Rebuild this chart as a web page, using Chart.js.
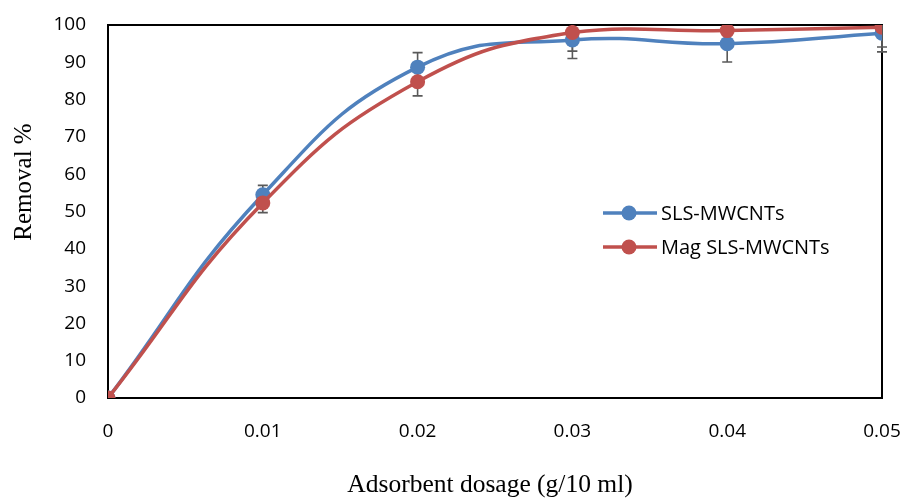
<!DOCTYPE html>
<html>
<head>
<meta charset="utf-8">
<script src="https://cdn.jsdelivr.net/npm/chart.js@4.4.0/dist/chart.umd.min.js"></script>
<style>
  html, body { margin: 0; padding: 0; background: #fff; }
  #wrap { width: 906px; height: 500px; position: relative; }
</style>
</head>
<body>
<div id="wrap"><canvas id="chart"></canvas></div>
<script>
// --- data ---
const dosage = [0, 0.01, 0.02, 0.03, 0.04, 0.05];
const xTickLabels = ["0", "0.01", "0.02", "0.03", "0.04", "0.05"];

const slsValues = [0, 54.5, 88.7, 96, 95, 97.8];
const slsErrors = [0, 2.5, 3.9, 5, 4.9, 5];

const magValues = [0, 52.3, 84.8, 98, 98.5, 99.4];
const magErrors = [0, 2.6, 3.8, 5, 0, 5.3];

const seriesNames = ["SLS-MWCNTs", "Mag SLS-MWCNTs"];
const xTitle = "Adsorbent dosage (g/10 ml)";
const yTitle = "Removal %";
const BLUE = "#4f81bd";
const RED = "#c0504d";

const toPoints = vals => vals.map((v, i) => ({ x: dosage[i], y: v }));

// error bars drawn under the markers, clipped to the plot
const errorBars = {
  id: "errorBars",
  beforeDatasetsDraw(chart) {
    const { ctx, chartArea: a, scales: { y } } = chart;
    ctx.save();
    ctx.beginPath();
    ctx.rect(a.left - 10, a.top, a.right - a.left + 20, a.bottom - a.top);
    ctx.clip();
    ctx.strokeStyle = "#595959";
    ctx.lineWidth = 1.6;
    chart.data.datasets.forEach((ds, di) => {
      const meta = chart.getDatasetMeta(di);
      ds.errors.forEach((err, i) => {
        if (!err) return;
        const pt = meta.data[i];
        const y1 = y.getPixelForValue(ds.data[i].y + err);
        const y2 = y.getPixelForValue(ds.data[i].y - err);
        ctx.beginPath();
        ctx.moveTo(pt.x, y1); ctx.lineTo(pt.x, y2);
        ctx.moveTo(pt.x - 5, y1); ctx.lineTo(pt.x + 5, y1);
        ctx.moveTo(pt.x - 5, y2); ctx.lineTo(pt.x + 5, y2);
        ctx.stroke();
      });
    });
    ctx.restore();
  }
};

// plot frame
const frame = {
  id: "frame",
  beforeDatasetsDraw(chart) {
    const { ctx, chartArea: a } = chart;
    ctx.save();
    ctx.strokeStyle = "#000";
    ctx.lineWidth = 2;
    ctx.strokeRect(a.left, a.top, a.right - a.left, a.bottom - a.top);
    ctx.restore();
  }
};

// axis titles (Excel placed the y title above centre)
const axisTitles = {
  id: "axisTitles",
  afterDraw(chart) {
    const { ctx } = chart;
    ctx.save();
    ctx.fillStyle = "#000";
    ctx.font = "25.5px 'Liberation Serif'";
    ctx.textAlign = "center";
    ctx.textBaseline = "alphabetic";
    ctx.fillText(xTitle, 490, 492);
    ctx.font = "25px 'Liberation Serif'";
    ctx.translate(31, 182);
    ctx.rotate(-Math.PI / 2);
    ctx.fillText(yTitle, 0, 0);
    ctx.restore();
  }
};

// legend placed inside the plot, like the original
const innerLegend = {
  id: "innerLegend",
  afterDraw(chart) {
    const { ctx } = chart;
    const x0 = 603, rows = [213, 247];
    ctx.save();
    ctx.font = "20px 'Open Sans'";
    ctx.textBaseline = "middle";
    chart.data.datasets.forEach((ds, i) => {
      const yy = rows[i];
      ctx.strokeStyle = ds.borderColor;
      ctx.lineWidth = 3.5;
      ctx.beginPath(); ctx.moveTo(x0, yy); ctx.lineTo(x0 + 54, yy); ctx.stroke();
      ctx.fillStyle = ds.borderColor;
      ctx.beginPath(); ctx.arc(x0 + 26, yy, 7.5, 0, Math.PI * 2); ctx.fill();
      ctx.fillStyle = "#000";
      ctx.fillText(ds.label, x0 + 58, yy + 1);
    });
    ctx.restore();
  }
};

new Chart(document.getElementById("chart"), {
  type: "line",
  data: {
    datasets: [
      {
        label: seriesNames[0], data: toPoints(slsValues), errors: slsErrors,
        borderColor: BLUE, backgroundColor: BLUE, pointBackgroundColor: BLUE,
        borderWidth: 3.5, pointRadius: 7.5, pointBorderWidth: 0, tension: 0.45, order: 1
      },
      {
        label: seriesNames[1], data: toPoints(magValues), errors: magErrors,
        borderColor: RED, backgroundColor: RED, pointBackgroundColor: RED,
        borderWidth: 3.5, pointRadius: 7.5, pointBorderWidth: 0, tension: 0.45, order: 0
      }
    ]
  },
  options: {
    responsive: true,
    maintainAspectRatio: false,
    animation: false,
    layout: { padding: { left: 0, right: 24, top: 25, bottom: 0 } },
    plugins: { legend: { display: false }, tooltip: { enabled: false } },
    scales: {
      x: {
        type: "linear", min: 0, max: 0.05,
        grid: { display: false, drawTicks: false },
        border: { display: false },
        ticks: {
          stepSize: 0.01, padding: 22, color: "#000",
          font: { family: "'Open Sans'", size: 19 },
          callback: (v, i) => xTickLabels[i]
        },
        afterFit: s => { s.height = 102; s.paddingLeft = 0; s.paddingRight = 0; }
      },
      y: {
        min: 0, max: 100,
        grid: { display: false, drawTicks: false },
        border: { display: false },
        ticks: {
          stepSize: 10, padding: 22, color: "#000",
          font: { family: "'Open Sans'", size: 19 }
        },
        afterFit: s => { s.width = 108; s.paddingTop = 0; s.paddingBottom = 0; }
      }
    }
  },
  plugins: [frame, errorBars, innerLegend, axisTitles]
});
</script>
</body>
</html>
